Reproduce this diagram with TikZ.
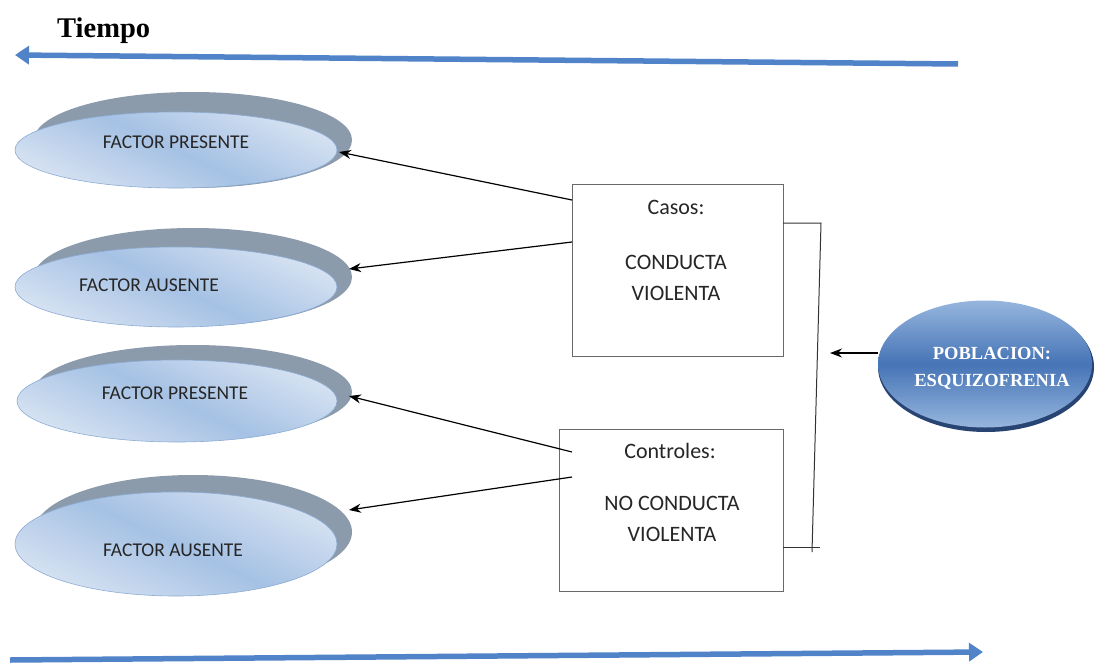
\documentclass[tikz,border=0pt]{standalone}
\usepackage{fontspec}
\setmainfont{Carlito}
\newfontfamily\serifbold{Liberation Serif}
\usetikzlibrary{shapes.geometric,arrows.meta}
\definecolor{timeblue}{RGB}{80,131,200}
\definecolor{shadowgray}{RGB}{140,155,172}
\definecolor{ellA}{RGB}{214,226,242}
\definecolor{ellB}{RGB}{165,193,228}
\definecolor{ellline}{RGB}{140,172,212}
\definecolor{popA}{RGB}{150,182,222}
\definecolor{popB}{RGB}{70,116,182}
\definecolor{popedge}{RGB}{40,68,115}
\definecolor{boxline}{RGB}{105,105,105}
\begin{document}
\begin{tikzpicture}[x=1pt,y=-1pt,
  timearrow/.style={draw=timeblue, line width=5.5pt, -{Triangle[length=14pt,width=18pt]}},
  backell/.style={ellipse, fill=shadowgray, inner sep=0pt, minimum width=318pt},
  frontell/.style={ellipse, draw=ellline, line width=0.6pt, top color=ellA, bottom color=ellA, middle color=ellB, shading angle=-25, inner sep=0pt, minimum width=322pt},
  elltext/.style={font=\fontsize{19.5}{22}\selectfont, text=black!85, inner sep=0pt},
  boxnode/.style={draw=boxline, line width=1pt, fill=white, rectangle, inner sep=0pt},
  boxtext/.style={font=\fontsize{22}{31.5}\selectfont, text=black!85, align=center, inner sep=0pt},
  conn/.style={draw=black, line width=1.2pt, -{Stealth[length=12pt,width=9pt]}},
  bracket/.style={draw=black!80, line width=1pt}
]
\useasboundingbox (0,0) rectangle (1103,664);

% time arrows
\coordinate (t1s) at (958,64);
\coordinate (t1e) at (15,55);
\coordinate (t2s) at (10,660);
\coordinate (t2e) at (983,652);
\draw[timearrow] (t1s) -- (t1e);
\draw[timearrow] (t2s) -- (t2e);
\node[anchor=base west, inner sep=0pt, font=\serifbold\bfseries\fontsize{28.5}{30}\selectfont] (tiempo) at (57,37) {Tiempo};

% ellipses (shadow + front)
\node[backell, minimum height=96pt] (s1) at (193,140) {};
\node[frontell, minimum height=76pt] (f1) at (176,150) {};
\node[elltext] (l1) at (176,142) {FACTOR PRESENTE};

\node[backell, minimum height=98pt] (s2) at (193,277) {};
\node[frontell, minimum height=80pt] (f2) at (176,287) {};
\node[elltext] (l2) at (149,285) {FACTOR AUSENTE};

\node[backell, minimum height=94pt] (s3) at (193,392) {};
\node[frontell, minimum height=82pt, minimum width=320pt] (f3) at (177,401) {};
\node[elltext] (l3) at (175,393) {FACTOR PRESENTE};

\node[backell, minimum height=114pt] (s4) at (193,532) {};
\node[frontell, minimum height=104pt] (f4) at (176,544) {};
\node[elltext] (l4) at (173,550) {FACTOR AUSENTE};

% boxes
\node[boxnode, minimum width=211pt, minimum height=172pt] (casos) at (677.5,270) {};
\node[boxtext] (casosl) at (676,207) {Casos:};
\node[boxtext] (casost) at (676,278) {CONDUCTA\\VIOLENTA};

\node[boxnode, minimum width=224pt, minimum height=162pt] (contr) at (671,510) {};
\node[boxtext] (contrl) at (670,451) {Controles:};
\node[boxtext] (contrt) at (672,519) {NO CONDUCTA\\VIOLENTA};

% population
\node[ellipse, fill=popedge, minimum width=216pt, minimum height=130pt, inner sep=0pt] (popsh) at (986,367) {};
\node[ellipse, top color=popA, bottom color=popA, middle color=popB, minimum width=214pt, minimum height=127pt, inner sep=0pt] (pob) at (985,364) {};
\node[font=\serifbold\bfseries\fontsize{18.5}{27}\selectfont, text=white, align=center, inner sep=0pt] (pobt) at (992,368) {POBLACION:\\ESQUIZOFRENIA};

% connectors box -> ellipses
\coordinate (c1) at (572,200);
\coordinate (c2) at (572,242);
\coordinate (c3) at (572,452);
\coordinate (c4) at (572,477);
\coordinate (e1) at (339,152);
\coordinate (e2) at (349,269);
\coordinate (e3) at (349,396);
\coordinate (e4) at (349,510);
\draw[conn] (c1) -- (e1);
\draw[conn] (c2) -- (e2);
\draw[conn] (c3) -- (e3);
\draw[conn] (c4) -- (e4);

% bracket
\coordinate (b1) at (783,223);
\coordinate (b2) at (821,223);
\coordinate (b3) at (812,552);
\coordinate (b4) at (783,547);
\coordinate (b5) at (820,547);
\draw[bracket] (b1) -- (b2) -- (b3);
\draw[bracket] (b4) -- (b5);

% population arrow
\coordinate (p1) at (878,353);
\coordinate (p2) at (830,353);
\draw[conn] (p1) -- (p2);
\end{tikzpicture}
\end{document}
